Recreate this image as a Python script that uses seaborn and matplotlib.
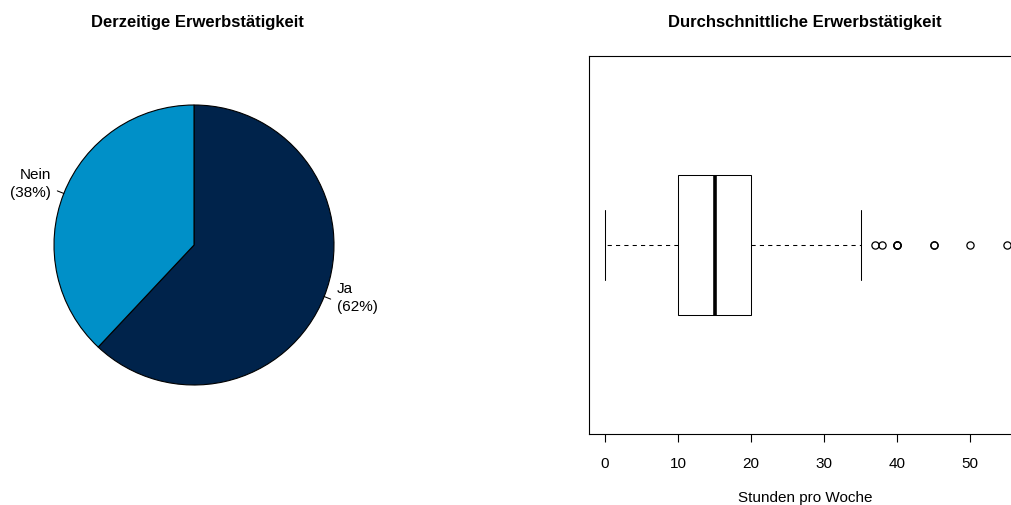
import numpy as np
import seaborn as sns
import matplotlib.pyplot as plt
import matplotlib.transforms as mtransforms

# pie data
status_labels = ['Ja', 'Nein']
status_share = [62, 38]
status_colors = ['#00234b', '#0090c8']

# hours per week (individual answers)
hour_values = [0, 5, 8, 10, 12, 15, 16, 18, 20, 25, 30, 35, 37, 38, 40, 45, 50, 55]
hour_counts = [2, 5, 5, 12, 8, 15, 3, 6, 14, 6, 5, 2, 1, 1, 3, 2, 1, 1]
hour_ticks = [0, 10, 20, 30, 40, 50]

sns.set_style('white')
plt.rcParams['font.family'] = ['Liberation Sans', 'DejaVu Sans']
plt.rcParams['font.size'] = 11
plt.rcParams['text.color'] = 'black'

hours = np.repeat(hour_values, hour_counts)

fig = plt.figure(figsize=(10.11, 5.06), dpi=100)
W, H = 1011, 506

# ---- pie ----
lim = 1.3
side = 2 * lim * 140
ax1 = fig.add_axes([(194 - side / 2) / W, (H - 246 - side / 2) / H, side / W, side / H])
wedges, _ = ax1.pie(status_share, colors=status_colors, startangle=90, counterclock=False,
                    wedgeprops=dict(edgecolor='black', linewidth=0.8))
ax1.set_xlim(-lim, lim)
ax1.set_ylim(-lim, lim)
ax1.set_aspect('equal')
ax1.axis('off')

# R-like labels sit a little higher than matplotlib's centred text
lift = mtransforms.offset_copy(ax1.transData, fig=fig, x=0, y=5, units='dots')
for w, lab, val in zip(wedges, status_labels, status_share):
    mid = np.deg2rad((w.theta1 + w.theta2) / 2)
    cx, cy = np.cos(mid), np.sin(mid)
    ax1.plot([cx, 1.05 * cx], [cy, 1.05 * cy], color='black', lw=0.75)
    ax1.text(1.1 * cx, 1.1 * cy, f'{lab}\n({val}%)', ha='left' if cx > 0 else 'right',
             va='center', fontsize=11, linespacing=1.35, color='black', transform=lift)

fig.text(197 / W, 1 - 22 / H, 'Derzeitige Erwerbstätigkeit', ha='center', va='center',
         fontsize=12, fontweight='bold', color='black')

# ---- boxplot ----
ax2 = fig.add_axes([589 / W, (H - 435) / H, 433.6 / W, 378 / H])
sns.boxplot(x=hours, ax=ax2, orient='h', width=0.368, color='white', linecolor='black',
            linewidth=0.75, whis=1.5,
            medianprops=dict(linewidth=2.6, color='black'),
            whiskerprops=dict(linestyle=(0, (4, 4)), color='black'),
            flierprops=dict(marker='o', markersize=5.2, markerfacecolor='none',
                            markeredgecolor='black', markeredgewidth=0.9))
ax2.set_xlim(-2.2, 57.2)
ax2.set_ylim(0.5, -0.5)
ax2.set_yticks([])
ax2.set_xticks(hour_ticks)
ax2.set_xlabel('')
ax2.set_ylabel('')
for s in ax2.spines.values():
    s.set_color('black')
    s.set_linewidth(0.8)
ax2.tick_params(axis='x', bottom=True, direction='out', length=6, width=0.8,
                color='black', pad=10, labelsize=11, labelcolor='black')

fig.text(805 / W, 1 - 22 / H, 'Durchschnittliche Erwerbstätigkeit', ha='center', va='center',
         fontsize=12, fontweight='bold', color='black')
fig.text(805 / W, 1 - 498 / H, 'Stunden pro Woche', ha='center', va='center', fontsize=11,
         color='black')

fig.savefig('out.png', dpi=100)
